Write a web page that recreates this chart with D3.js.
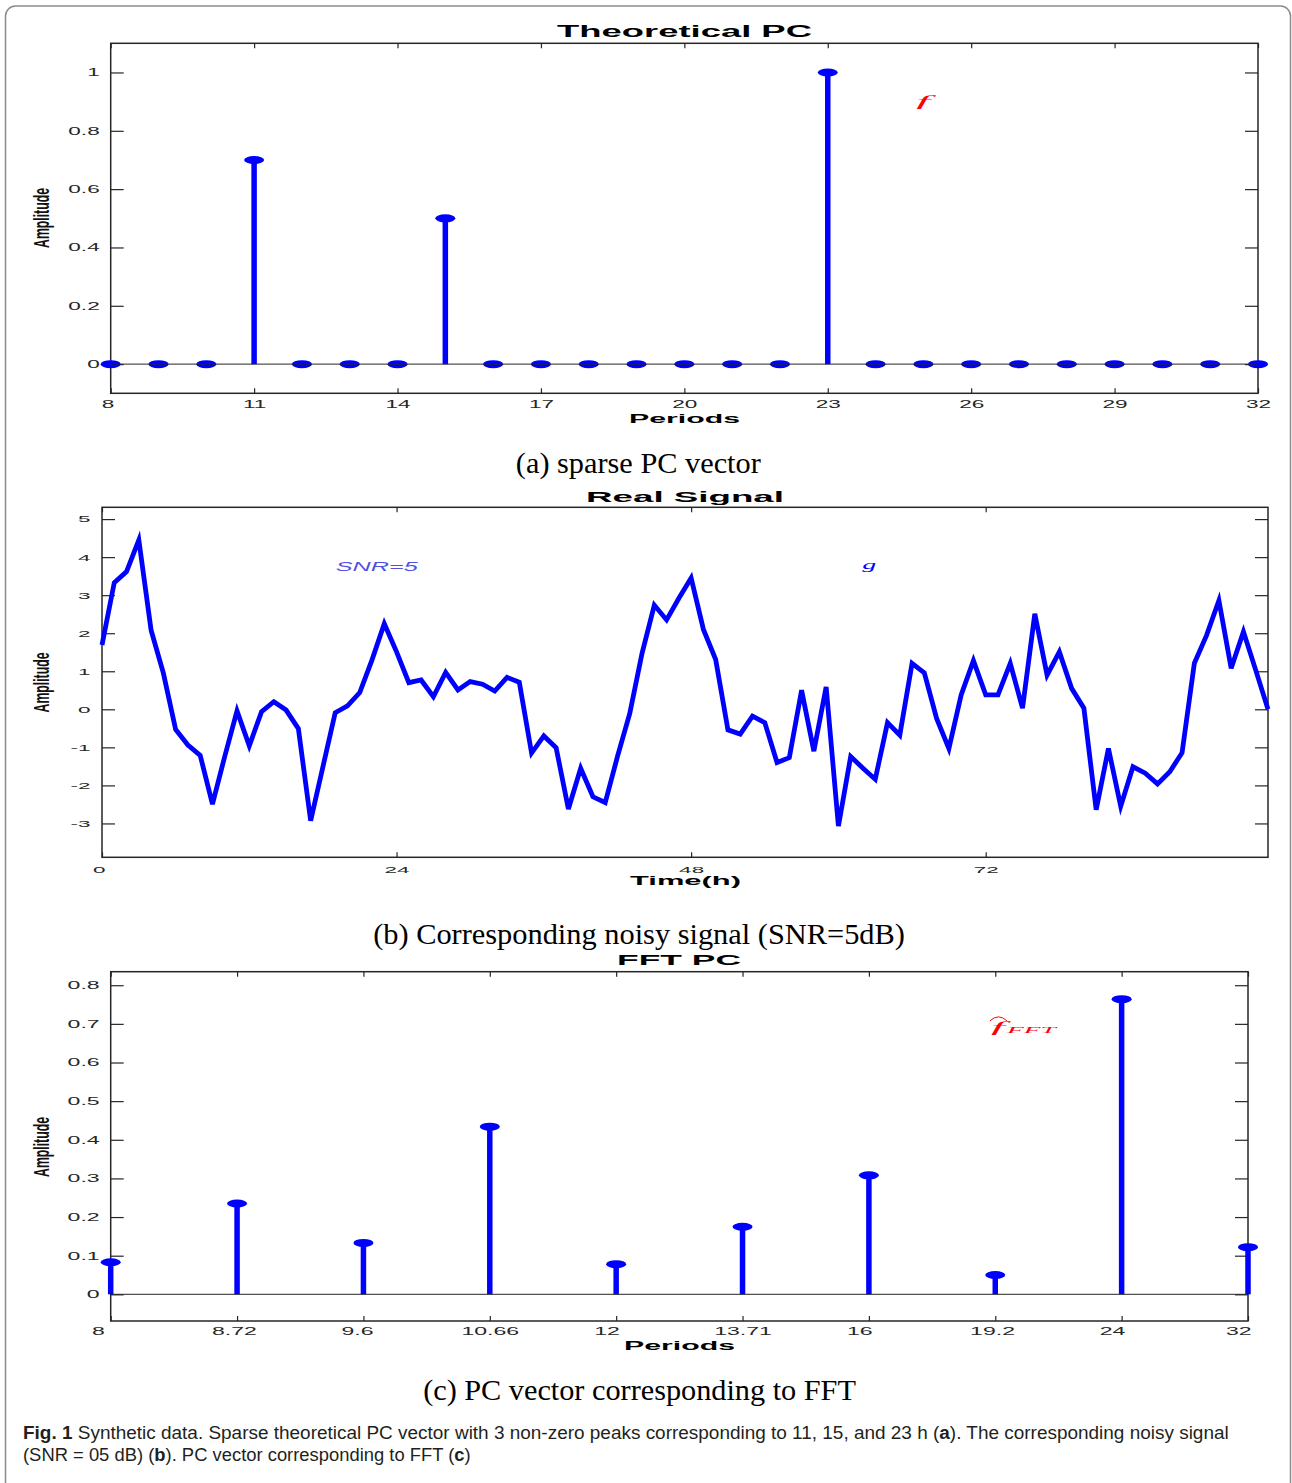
<!DOCTYPE html>
<html>
<head>
<meta charset="utf-8">
<script src="https://cdn.jsdelivr.net/npm/d3@7"></script>
<style>
  body { margin: 0; background: #fff; }
  svg { display: block; }
</style>
</head>
<body>
<svg id="fig" width="1292" height="1483"></svg>
<script>
// ---- data ----
// (a) theoretical PC vector
const periodsA = [8, 9, 10, 11, 12, 13, 14, 15, 16, 17, 18, 19, 20, 21, 22, 23, 24, 25, 26, 27, 28, 29, 30, 31, 32];
const ampA     = [0, 0, 0, 0.7, 0, 0, 0, 0.5, 0, 0, 0, 0, 0, 0, 0, 1, 0, 0, 0, 0, 0, 0, 0, 0, 0];
const xTicksA  = [8, 11, 14, 17, 20, 23, 26, 29, 32];
const yTicksA  = [0, 0.2, 0.4, 0.6, 0.8, 1];

// (b) noisy signal, one sample per hour (0..95)
const signal = [1.69, 3.33, 3.62, 4.45, 2.08, 0.95, -0.53, -0.94, -1.21, -2.49,
  -1.24, -0.04, -0.96, -0.06, 0.2, -0.02, -0.51, -2.93, -1.51, -0.09,
  0.09, 0.44, 1.3, 2.25, 1.51, 0.7, 0.77, 0.33, 0.97, 0.51,
  0.73, 0.66, 0.48, 0.84, 0.71, -1.15, -0.7, -1.01, -2.62, -1.55,
  -2.3, -2.45, -1.24, -0.11, 1.47, 2.74, 2.35, 2.92, 3.45, 2.1,
  1.31, -0.54, -0.65, -0.18, -0.35, -1.4, -1.27, 0.5, -1.1, 0.59,
  -3.07, -1.24, -1.55, -1.84, -0.35, -0.68, 1.21, 0.96, -0.24, -1.03,
  0.38, 1.28, 0.38, 0.38, 1.21, 0.03, 2.51, 0.9, 1.51, 0.55,
  0.03, -2.64, -1.03, -2.55, -1.51, -1.68, -1.96, -1.64, -1.14, 1.21,
  1.95, 2.86, 1.08, 2.04, 1.03, 0];
const xTicksB = [0, 24, 48, 72];
const yTicksB = [-3, -2, -1, 0, 1, 2, 3, 4, 5];

// (c) FFT PC vector
const fftPeriods = ["8", "8.72", "9.6", "10.66", "12", "13.71", "16", "19.2", "24", "32"];
const fftAmp     = [0.083, 0.235, 0.133, 0.434, 0.078, 0.175, 0.308, 0.05, 0.764, 0.122];
const yTicksC    = [0, 0.1, 0.2, 0.3, 0.4, 0.5, 0.6, 0.7, 0.8];

const BLUE = "#0000ff";
const INK = "#262626";
const SANS = "'Liberation Sans', Arial, Helvetica, sans-serif";
const SERIF = "'Liberation Serif', 'Times New Roman', serif";

const svg = d3.select("#fig");

// outer frame of the figure
svg.append("path")
  .attr("d", "M5.5,1483 V16 A10,10 0 0 1 15.5,6 H1280.5 A10,10 0 0 1 1290.5,16 V1483")
  .attr("fill", "none").attr("stroke", "#8c8c8c").attr("stroke-width", 1.5);

// text squeezed/stretched horizontally to a given width (the figure was exported stretched)
function fitText(g, str, x, y, w, o) {
  const t = g.append("text")
    .attr("text-anchor", o.anchor || "middle")
    .attr("font-family", o.family || SANS)
    .attr("font-size", o.size)
    .attr("font-weight", o.weight || "normal")
    .attr("font-style", o.style || "normal")
    .attr("fill", o.fill || "#000")
    .text(str);
  const k = w / t.node().getComputedTextLength();
  t.attr("transform", `translate(${x},${y})${o.rot ? " rotate(-90)" : ""} scale(${k},1)`);
  return t;
}

// matlab pads x tick labels with trailing blanks to the same length
function padder(labels) {
  const n = d3.max(labels, s => s.length);
  return s => s + " ".repeat(n - s.length);
}

// box with inward ticks on all four sides, labels on bottom/left
function frame(g, x, y, box, o) {
  const styleTicks = (sel) => sel.attr("color", INK)
    .call(s => s.select(".domain").remove())
    .call(s => s.selectAll(".tick line").attr("stroke-width", 1.2));

  const bx = g.append("g").attr("transform", `translate(0,${box.bottom})`)
    .call(d3.axisBottom(x).tickValues(o.xt).tickFormat(o.xf)
      .tickSizeInner(-5).tickSizeOuter(0).tickPadding(o.xpad))
    .call(styleTicks)
    .attr("font-family", SANS).attr("font-size", o.fs);
  bx.selectAll("text").attr("fill", INK).style("white-space", "pre")
    .attr("transform", `scale(${o.k},1)`);

  const ly = g.append("g").attr("transform", `translate(${box.left},0)`)
    .call(d3.axisLeft(y).tickValues(o.yt).tickFormat(d => String(d))
      .tickSizeInner(-13).tickSizeOuter(0).tickPadding(o.ypad))
    .call(styleTicks)
    .attr("font-family", SANS).attr("font-size", o.fs);
  ly.selectAll("text").attr("fill", INK)
    .attr("x", -o.ypad / o.k).attr("transform", `scale(${o.k},1)`);

  g.append("g").attr("transform", `translate(0,${box.top})`)
    .call(d3.axisTop(x).tickValues(o.xt).tickFormat("").tickSizeInner(-5).tickSizeOuter(0))
    .call(styleTicks);
  g.append("g").attr("transform", `translate(${box.right},0)`)
    .call(d3.axisRight(y).tickValues(o.yt).tickFormat("").tickSizeInner(-13).tickSizeOuter(0))
    .call(styleTicks);

  g.append("rect")
    .attr("x", box.left).attr("y", box.top)
    .attr("width", box.right - box.left).attr("height", box.bottom - box.top)
    .attr("fill", "none").attr("stroke", INK).attr("stroke-width", 1.5);
}

function stems(g, x, y, box, xs, vs) {
  const d = xs.map((p, i) => ({ p: p, v: vs[i] }));
  g.selectAll(".stem").data(d).join("line").attr("class", "stem")
    .attr("x1", e => x(e.p)).attr("x2", e => x(e.p))
    .attr("y1", y(0)).attr("y2", e => y(e.v))
    .attr("stroke", BLUE).attr("stroke-width", 5.5);
  g.selectAll(".mark").data(d).join("ellipse").attr("class", "mark")
    .attr("cx", e => x(e.p)).attr("cy", e => y(e.v))
    .attr("rx", 10).attr("ry", 4).attr("fill", BLUE);
  g.append("line")
    .attr("x1", box.left).attr("x2", box.right)
    .attr("y1", y(0)).attr("y2", y(0))
    .attr("stroke", INK).attr("stroke-width", 1.2).attr("stroke-opacity", 0.8);
}

function yLabel(g, cy) {
  fitText(g, "Amplitude", 49, cy, 60, { size: 22, weight: "bold", rot: true, fill: "#111" });
}

// ---- (a) Theoretical PC ----
{
  const box = { left: 110.7, right: 1258, top: 43.3, bottom: 393.3 };
  const g = svg.append("g");
  const x = d3.scaleLinear().domain([8, 32]).range([box.left, box.right]);
  const y = d3.scaleLinear().domain([-0.1, 1.1]).range([box.bottom, box.top]);
  const pad = padder(xTicksA.map(String));
  frame(g, x, y, box, { xt: xTicksA, xf: d => pad(String(d)), yt: yTicksA, fs: 10.5, k: 2.15, xpad: 7, ypad: 11 });
  stems(g, x, y, box, periodsA, ampA);
  fitText(g, "Theoretical PC", 684.5, 36.7, 255, { size: 16, weight: "bold" });
  fitText(g, "Periods", 684.5, 422.7, 111, { size: 13, weight: "bold" });
  yLabel(g, 218);
  fitText(g, "f", x(25), y(0.9) + 4, 14, { size: 14, family: SERIF, style: "italic", fill: "#ff0000" });
  fitText(g, "(a) sparse PC vector", 638.3, 473, 245, { size: 29, family: SERIF });
}

// ---- (b) Real Signal ----
{
  const box = { left: 102, right: 1268, top: 507.3, bottom: 857.3 };
  const g = svg.append("g");
  const x = d3.scaleLinear().domain([0, 95]).range([box.left, box.right]);
  const y = d3.scaleLinear().domain([-3.89, 5.31]).range([box.bottom, box.top]);
  const pad = padder(xTicksB.map(String));
  frame(g, x, y, box, { xt: xTicksB, xf: d => pad(String(d)), yt: yTicksB, fs: 9, k: 2.5, xpad: 9, ypad: 11.5 });
  g.append("path").datum(signal)
    .attr("d", d3.line().x((d, i) => x(i)).y(d => y(d)))
    .attr("fill", "none").attr("stroke", BLUE).attr("stroke-width", 4.8)
    .attr("stroke-linejoin", "miter").attr("stroke-miterlimit", 4);
  fitText(g, "Real Signal", 685, 501.5, 198, { size: 14, weight: "bold" });
  fitText(g, "Time(h)", 685.5, 885, 111, { size: 12.5, weight: "bold" });
  yLabel(g, 682.5);
  fitText(g, "SNR=5", x(19.05), y(3.75) + 4.5, 82, { size: 12, style: "italic", anchor: "start", fill: "#5050e8" });
  fitText(g, "g", x(61.95), y(3.75) + 2.5, 14, { size: 13, family: SERIF, style: "italic", anchor: "start", fill: BLUE });
  fitText(g, "(b) Corresponding noisy signal (SNR=5dB)", 639, 944, 532, { size: 29, family: SERIF });
}

// ---- (c) FFT PC ----
{
  const box = { left: 110.7, right: 1248, top: 971.7, bottom: 1321 };
  const g = svg.append("g");
  const idx = fftPeriods.map((p, i) => i);
  const x = d3.scaleLinear().domain([0, fftPeriods.length - 1]).range([box.left, box.right]);
  const y = d3.scaleLinear().domain([-0.069, 0.835]).range([box.bottom, box.top]);
  const pad = padder(fftPeriods);
  frame(g, x, y, box, { xt: idx, xf: i => pad(fftPeriods[i]), yt: yTicksC, fs: 10.5, k: 2.2, xpad: 7, ypad: 11 });
  stems(g, x, y, box, idx, fftAmp);
  fitText(g, "FFT PC", 679, 965, 124, { size: 14, weight: "bold" });
  fitText(g, "Periods", 679.5, 1350, 111, { size: 13, weight: "bold" });
  yLabel(g, 1147);
  // \hat{f}_{FFT}
  const ax = x(6.95), ay = y(0.7);
  fitText(g, "f", ax + 9, ay + 8, 14, { size: 15, family: SERIF, style: "italic", fill: "#ff0000" });
  fitText(g, "FFT", ax + 18, ay + 9, 49, { size: 9, family: SERIF, style: "italic", anchor: "start", fill: "#ff0000" });
  g.append("path")
    .attr("d", `M${ax + 1},${ay - 3} Q${ax + 9.5},${ay - 11} ${ax + 18},${ay - 3}`)
    .attr("fill", "none").attr("stroke", "#ff0000").attr("stroke-width", 1);
  fitText(g, "(c) PC vector corresponding to FFT", 639.5, 1400, 433, { size: 29, family: SERIF });
}

// ---- figure caption ----
function captionLine(parts, x, y, w) {
  const t = svg.append("text")
    .attr("font-family", SANS)
    .attr("font-size", 18.5).attr("fill", "#231f20");
  parts.forEach(p => t.append("tspan").attr("font-weight", p[1] ? "bold" : "normal").text(p[0]));
  const k = w / t.node().getComputedTextLength();
  t.attr("transform", `translate(${x},${y}) scale(${k},1)`);
}
captionLine([["Fig. 1", true],
  [" Synthetic data. Sparse theoretical PC vector with 3 non-zero peaks corresponding to 11, 15, and 23 h (", false],
  ["a", true], ["). The corresponding noisy signal", false]], 23, 1439, 1207);
captionLine([["(SNR = 05 dB) (", false], ["b", true], ["). PC vector corresponding to FFT (", false],
  ["c", true], [")", false]], 23, 1460.5, 448);
</script>
</body>
</html>
